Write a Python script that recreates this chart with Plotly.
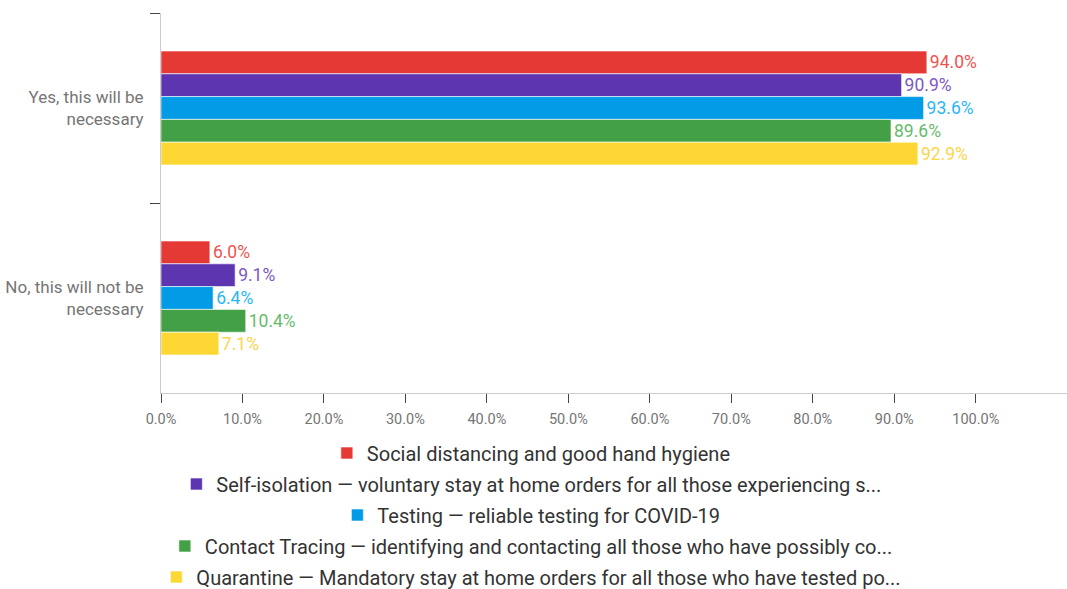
import plotly.graph_objects as go

categories = ["Yes, this will be<br>necessary", "No, this will not be<br>necessary"]
series_names = [
    "Social distancing and good hand hygiene",
    "Self-isolation — voluntary stay at home orders for all those experiencing s...",
    "Testing — reliable testing for COVID-19",
    "Contact Tracing — identifying and contacting all those who have possibly co...",
    "Quarantine — Mandatory stay at home orders for all those who have tested po...",
]
social = [94.0, 6.0]
self_isolation = [90.9, 9.1]
testing = [93.6, 6.4]
contact = [89.6, 10.4]
quarantine = [92.9, 7.1]
x_ticks = [0, 10, 20, 30, 40, 50, 60, 70, 80, 90, 100]
x_tick_labels = ["0.0%", "10.0%", "20.0%", "30.0%", "40.0%", "50.0%", "60.0%", "70.0%", "80.0%", "90.0%", "100.0%"]

series_values = [social, self_isolation, testing, contact, quarantine]
bar_colors = ["#e53935", "#5e35b1", "#039be5", "#43a047", "#fdd835"]
text_colors = ["#ef5350", "#7e57c2", "#29b6f6", "#66bb6a", "#fdd54a"]
legend_ids = ["legend", "legend2", "legend3", "legend4", "legend5"]
legend_rows_px = [453, 484, 515, 546, 577]
H = 589

fig = go.Figure()
for name, vals, bc, tc, lid in zip(series_names, series_values, bar_colors, text_colors, legend_ids):
    fig.add_trace(go.Bar(
        y=categories, x=vals, name=name, orientation="h",
        marker=dict(color=bc, line=dict(color="rgba(255,255,255,0.6)", width=1)),
        text=[f"{v:.1f}%" for v in vals], textposition="outside",
        textfont=dict(color=tc, size=17.5, family="Roboto"),
        cliponaxis=False, legend=lid, showlegend=True,
    ))

layout_legends = {}
for lid, py in zip(legend_ids, legend_rows_px):
    layout_legends[lid] = dict(
        xref="container", yref="container", x=0.498, xanchor="center",
        y=1 - py / H, yanchor="middle",
        font=dict(size=20, color="#333333", family="Roboto"),
        bgcolor="rgba(0,0,0,0)", borderwidth=0,
    )

fig.update_layout(
    width=1067, height=589,
    margin=dict(l=161, r=0, t=13, b=196, autoexpand=False),
    paper_bgcolor="white", plot_bgcolor="white",
    barmode="group", bargap=0.4, bargroupgap=0,
    font=dict(family="Roboto", color="#757575", size=14),
    xaxis=dict(
        range=[0, 111.2], tickvals=x_ticks, ticktext=x_tick_labels,
        showgrid=False, zeroline=False, showline=True, linecolor="#cccccc", linewidth=1,
        ticks="outside", ticklen=9, tickcolor="#444444", tickwidth=1,
        ticklabelstandoff=4,
        tickfont=dict(size=14.5, color="#757575"), automargin=False,
    ),
    yaxis=dict(
        autorange="reversed", showgrid=False, zeroline=False,
        showline=True, linecolor="#cccccc", linewidth=1,
        ticks="outside", ticklen=10, tickcolor="#444444", tickwidth=1,
        tickson="boundaries", ticklabelstandoff=13,
        tickfont=dict(size=17, color="#757575"), automargin=False,
    ),
    **layout_legends,
)

fig.write_html(
    "out.html",
    config={"displayModeBar": False},
    post_script="document.body.style.margin='0';document.body.style.overflow='hidden';",
)
